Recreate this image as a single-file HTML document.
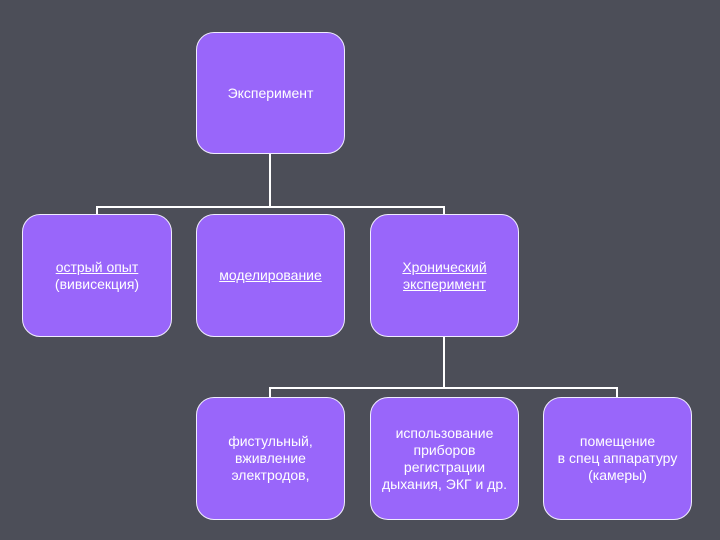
<!DOCTYPE html>
<html><head><meta charset="utf-8"><style>
body{margin:0;width:720px;height:540px;background:#4c4e58;position:relative;overflow:hidden;font-family:"Liberation Sans","DejaVu Sans",sans-serif;}
.b{position:absolute;width:146px;height:120px;background:#9966fa;border:1px solid #f0ecff;border-radius:18px;color:#fff;font-size:14px;line-height:17px;display:flex;align-items:center;justify-content:center;text-align:center;box-sizing:border-box;}
.l{position:absolute;background:#fff;}
u{text-decoration:underline;}
</style></head><body>
<div class="l" style="left:269px;top:153px;width:2px;height:55px"></div>
<div class="l" style="left:96px;top:206px;width:349px;height:2px"></div>
<div class="l" style="left:96px;top:206px;width:2px;height:9px"></div>
<div class="l" style="left:443px;top:206px;width:2px;height:9px"></div>
<div class="l" style="left:443px;top:336px;width:2px;height:53px"></div>
<div class="l" style="left:269px;top:387px;width:349px;height:2px"></div>
<div class="l" style="left:269px;top:387px;width:2px;height:11px"></div>
<div class="l" style="left:616px;top:387px;width:2px;height:11px"></div>

<div class="b" style="left:196px;top:32px;height:122px;width:149px">Эксперимент</div>
<div class="b" style="left:22px;top:214px;width:150px;height:123px"><div><u>острый опыт</u><br>(вивисекция)</div></div>
<div class="b" style="left:196px;top:214px;width:149px;height:123px"><u>моделирование</u></div>
<div class="b" style="left:370px;top:214px;width:149px;height:123px"><div><u>Хронический<br>эксперимент</u></div></div>
<div class="b" style="left:196px;top:397px;width:149px;height:123px"><div>фистульный,<br>вживление<br>электродов,</div></div>
<div class="b" style="left:370px;top:397px;width:149px;height:123px"><div>использование<br>приборов<br>регистрации<br>дыхания, ЭКГ и др.</div></div>
<div class="b" style="left:543px;top:397px;width:149px;height:123px"><div>помещение<br>в спец аппаратуру<br>(камеры)</div></div>
</body></html>
